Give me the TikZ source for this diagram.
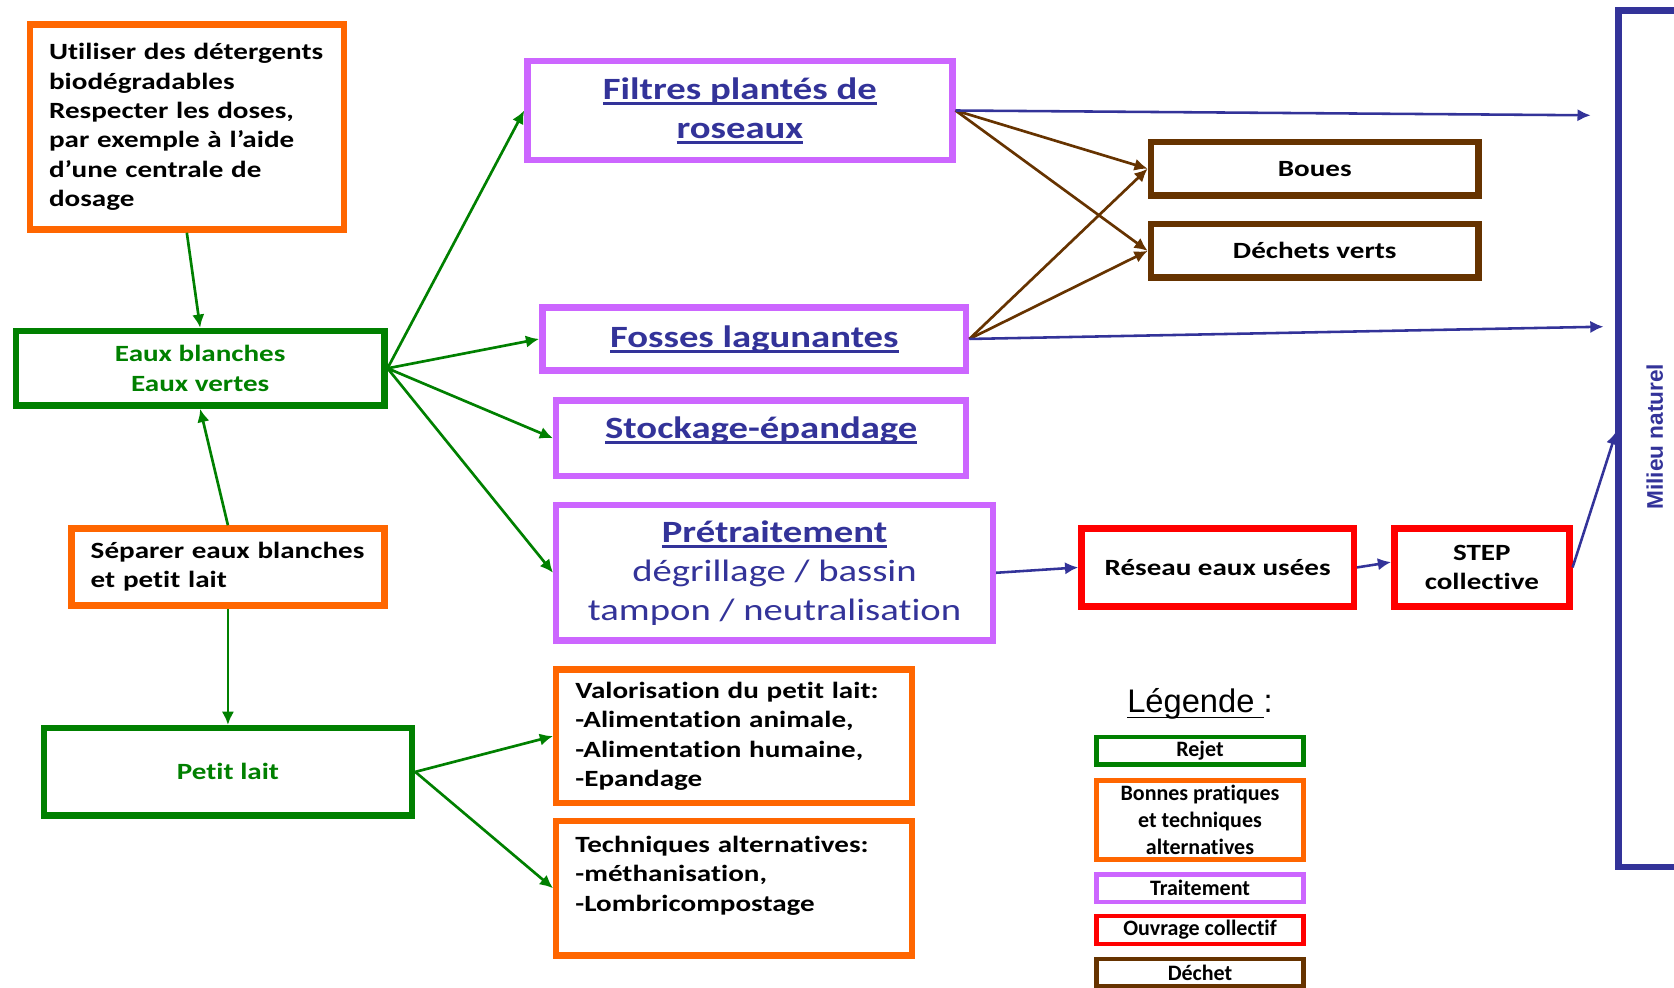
\documentclass[tikz,border=0pt]{standalone}
\usepackage{fontspec}
\setmainfont{Carlito}[FakeStretch=1.25,Ligatures=NoCommon]
\newfontfamily\legendtext{Carlito}[Ligatures=NoCommon]
\newfontfamily\legendfont{Liberation Sans}
\definecolor{rejetGreen}{RGB}{0,128,0}
\definecolor{pratiqueOrange}{RGB}{255,102,0}
\definecolor{traitViolet}{RGB}{204,102,255}
\definecolor{ouvrageRed}{RGB}{255,0,0}
\definecolor{dechetBrown}{RGB}{102,51,0}
\definecolor{milieuBlue}{RGB}{51,51,153}
\usepackage{tikz}
\usetikzlibrary{arrows.meta,positioning}
\newcommand{\ulthick}[1]{\setbox0=\hbox{#1}\rlap{\rule[-2.6pt]{\wd0}{1.2pt}}\box0}
\newcommand{\ulthin}[1]{\setbox0=\hbox{#1}\rlap{\rule[-2.8pt]{\wd0}{0.7pt}}\box0}

\begin{document}
\begin{tikzpicture}[x=0.5pt,y=-0.5pt,
                box/.style={draw,line width=3pt,inner sep=0pt,align=center,
                            font=\fontsize{10.9}{13.8}\selectfont\bfseries},
                rejet/.style={box,draw=rejetGreen,text=rejetGreen},
                pratique/.style={box,draw=pratiqueOrange,align=left,inner xsep=9pt},
                traitement/.style={box,draw=traitViolet,text=milieuBlue,
                            font=\fontsize{14.5}{18.3}\selectfont\bfseries},
                ouvrage/.style={box,draw=ouvrageRed},
                dechet/.style={box,draw=dechetBrown},
                legende/.style={draw,line width=2pt,inner sep=0pt,minimum width=97pt,
                            minimum height=13pt,align=center,
                            font=\legendtext\fontsize{10.3}{12.5}\selectfont\bfseries},
                fleche/.style={-{Latex[length=6.2pt,width=5.8pt]},line width=1.25pt},
                vert/.style={fleche,rejetGreen},
                brun/.style={fleche,dechetBrown},
                bleu/.style={fleche,milieuBlue,line width=1.2pt}
            ]
                \useasboundingbox (0,0) rectangle (1568,925);
                % colonne de gauche
                \node[pratique,text width=129pt,minimum height=96pt] (util) at (175,119) {
                    Utiliser des détergents\\biodégradables\\Respecter les doses,\\
                    par exemple à l’aide\\d’une centrale de\\dosage
                };
                \node[rejet,minimum width=172.5pt,minimum height=35pt] (eaux) at (187.5,345) {
                    Eaux blanches\\Eaux vertes
                };
                \node[pratique,text width=128.5pt,minimum height=36pt] (separ) at (213.5,531) {
                    Séparer eaux blanches\\et petit lait
                };
                \node[rejet,minimum width=172.5pt,minimum height=41pt] (petit) at (213.5,723) {Petit lait};
                % traitements
                \node[traitement,minimum width=199pt,minimum height=46.5pt] (filtres) at (693,103.5) {
                    \ulthick{Filtres plantés de}\\\ulthick{roseaux}
                };
                \node[traitement,minimum width=198.5pt,minimum height=29.5pt] (fosses) at (706.5,317.5) {
                    \ulthick{Fosses lagunantes}
                };
                \node[traitement,minimum width=192pt,minimum height=35.5pt,text depth=10pt] (stock) at (713,410.5) {
                    \ulthick{Stockage-épandage}
                };
                \node[traitement,minimum width=204.5pt,minimum height=63.5pt] (pret) at (725.5,536.5) {
                    \ulthick{Prétraitement}\\\mdseries dégrillage / bassin\\\mdseries tampon / neutralisation
                };
                \node[pratique,text width=148.5pt,minimum height=62.5pt] (valor) at (687.5,689.5) {
                    Valorisation du petit lait:\\-Alimentation animale,\\-Alimentation humaine,\\-Epandage
                };
                \node[pratique,text width=148.5pt,minimum height=63pt] (techn) at (687.5,832) {
                    Techniques alternatives:\\-méthanisation,\\-Lombricompostage\\\mbox{}
                };
                % dechets et ouvrages
                \node[dechet,minimum width=153.5pt,minimum height=25pt] (boues) at (1231.5,158) {Boues};
                \node[dechet,minimum width=153.5pt,minimum height=25pt] (dverts) at (1231.5,235) {Déchets verts};
                \node[ouvrage,minimum width=127.5pt,minimum height=36.5pt] (reseau) at (1140.5,531.5) {Réseau eaux usées};
                \node[ouvrage,minimum width=82pt,minimum height=36.5pt] (stepcoll) at (1388,531.5) {STEP\\collective};
                % milieu naturel
                \draw[milieuBlue,line width=3pt] (1568,10) -| (1516,812) -- (1568,812);
                \node[rotate=90,inner sep=0pt,text=milieuBlue,
                      font=\legendfont\fontsize{10.6}{12}\selectfont\bfseries] (milieu) at (1550,409) {Milieu naturel};
                \coordinate (mfiltres) at (1490,108);
                \coordinate (mfosses) at (1502,306);
                \coordinate (mstep) at (1514,404);
                % legende
                \node[inner sep=0pt,font=\legendfont\fontsize{15.3}{18}\selectfont] (legtitre) at (1124,659) {\ulthin{Légende }:};
                \node[legende,draw=rejetGreen] (lrejet) at (1124,703) {Rejet};
                \node[legende,draw=pratiqueOrange,minimum height=37pt] (lprat) at (1124,768) {
                    Bonnes pratiques\\et techniques\\alternatives
                };
                \node[legende,draw=traitViolet] (ltrait) at (1124,832) {Traitement};
                \node[legende,draw=ouvrageRed] (louvr) at (1124,871) {Ouvrage collectif};
                \node[legende,draw=dechetBrown] (ldech) at (1124,911) {Déchet};
                % fleches
                \draw[vert] (util.south) -- (eaux.north);
                \draw[vert] (separ.north) -- (eaux.south);
                \draw[vert] (separ.south) -- (petit.north);
                \foreach \t in {filtres,fosses,stock,pret}
                    \draw[vert] (eaux.east) -- (\t.west);
                \foreach \t in {valor,techn}
                    \draw[vert] (petit.east) -- (\t.west);
                \foreach \s in {filtres,fosses}
                    \foreach \t in {boues,dverts}
                        \draw[brun] (\s.east) -- (\t.west);
                \draw[bleu] (filtres.east) -- (mfiltres);
                \draw[bleu] (fosses.east) -- (mfosses);
                \draw[bleu] (pret.east) -- (reseau.west);
                \draw[bleu] (reseau.east) -- ([yshift=2.5pt]stepcoll.west);
                \draw[bleu] (stepcoll.east) -- (mstep);
            \end{tikzpicture}
\end{document}
